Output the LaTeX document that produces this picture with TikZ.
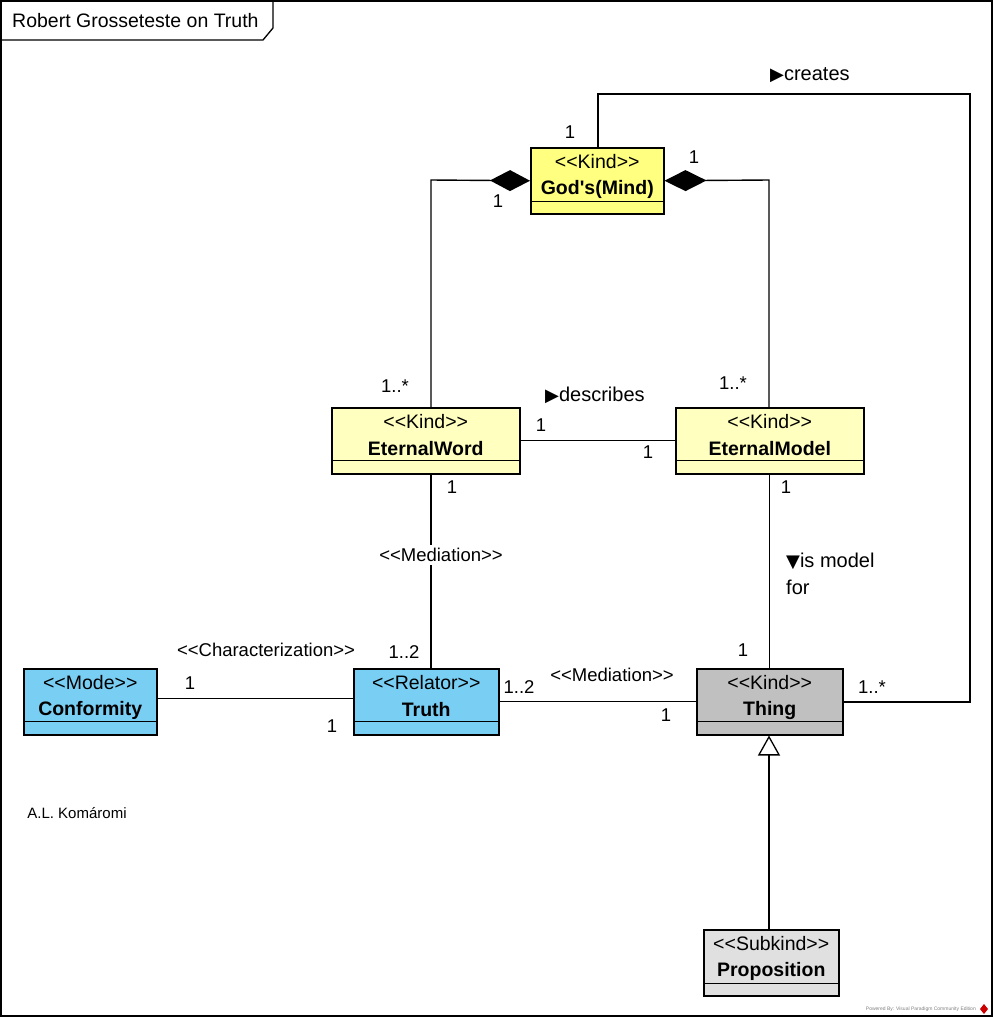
\documentclass[tikz,border=0pt]{standalone}
\usepackage{fontspec}
\setmainfont{Liberation Sans}
\newfontfamily\symfont{DejaVu Sans}
\usetikzlibrary{arrows.meta}
\definecolor{gmyellow}{HTML}{FFFF80}
\definecolor{paleyellow}{HTML}{FFFFC0}
\definecolor{umlblue}{HTML}{79CEF4}
\definecolor{thinggray}{HTML}{C0C0C0}
\definecolor{propgray}{HTML}{E0E0E0}
\newcommand{\stereo}[1]{<{}<#1>{}>}
\newcommand{\tri}[1]{{\symfont\fontsize{18}{18}\selectfont #1}}
\tikzset{
  boxtxt/.style={font=\fontsize{19.5}{22}\selectfont, inner sep=0pt},
  lbl/.style={font=\fontsize{18.5}{21}\selectfont, inner sep=1pt},
  namelbl/.style={font=\fontsize{20}{27}\selectfont, inner sep=1pt},
  conn/.style={line width=1.4pt, line join=miter},
  classbox/.style={draw, line width=1.5pt, inner sep=0pt, anchor=north west},
}
\newcommand{\umlbox}[9]{%
  \node[classbox, fill=#6, minimum width=#4pt, minimum height=#5pt] (#1) at (#2,#3) {};
  \draw[line width=1.3pt] ([yshift=#9pt]#1.south west) -- ([yshift=#9pt]#1.south east);
  \node[boxtxt] at ([yshift=-15pt]#1.north) {\stereo{#7}};
  \node[boxtxt, font=\fontsize{19.5}{22}\selectfont\bfseries] at ([yshift=-42pt]#1.north) {#8};
}
\begin{document}
\begin{tikzpicture}[x=1pt,y=-1pt]
\useasboundingbox (0,0) rectangle (994,1018);
\draw[line width=1.5pt] (1,1) rectangle (992,1016);
\draw[line width=1.3pt] (1,40) -- (263,40) -- (273,28) -- (273,1);
\node[boxtxt, anchor=west] (title) at (12,21) {Robert Grosseteste on Truth};

\umlbox{gm}{530}{147}{133}{66}{gmyellow}{Kind}{God\textquotesingle s(Mind)}{13}
\umlbox{ew}{331}{407}{188}{66}{paleyellow}{Kind}{EternalWord}{14}
\umlbox{em}{675}{407}{188}{66}{paleyellow}{Kind}{EternalModel}{14}
\umlbox{conf}{23}{668}{133}{66}{umlblue}{Mode}{Conformity}{14}
\umlbox{truth}{353}{668}{145}{66}{umlblue}{Relator}{Truth}{14}
\umlbox{thing}{696}{668}{146}{66}{thinggray}{Kind}{Thing}{14}
\umlbox{prop}{703}{929}{135}{66}{propgray}{Subkind}{Proposition}{13}

% coordinates for bends
\coordinate (cr1) at (598,94);
\coordinate (cr2) at (970,94);
\coordinate (cr3) at (970,702);
\coordinate (lc) at (431,180);
\coordinate (rc) at (769,180);
\coordinate (xa) at (431,0);
\coordinate (xg) at (769,0);

% creates
\draw[conn] (gm.north -| cr1) -- (cr1) -- (cr2) -- (cr3) -- (thing.east |- cr3);
% compositions
\draw[conn, {Diamond[length=40pt,width=21pt]}-] (gm.west) -- (lc) -- (ew.north -| lc);
\draw[conn, {Diamond[length=42pt,width=21pt]}-] (gm.east) -- (rc) -- (em.north -| rc);
% describes
\draw[conn] (ew.east) -- (em.west);
% mediation EternalWord - Truth
\draw[conn] (ew.south -| xa) -- (truth.north -| xa);
% is model for
\draw[conn] (em.south) -- (thing.north);
% characterization
\draw[conn] ([yshift=3pt]conf.east) -- ([yshift=3pt]truth.west);
% mediation Truth - Thing
\draw[conn] (truth.east) -- (thing.west);
% generalization
\draw[conn, -{Triangle[open, length=20pt, width=22pt, line width=1.3pt]}] (prop.north -| xg) -- (thing.south -| xg);

% labels
\node[namelbl, anchor=west] (lcreates) at (769,75) {\tri{▶}creates};
\node[lbl] (m1) at (570,132) {1};
\node[lbl] (m2) at (498,201) {1};
\node[lbl] (m3) at (694,157) {1};
\node[lbl] (m4) at (395,386) {1..*};
\node[lbl] (m5) at (733,383) {1..*};
\node[namelbl, anchor=west] (ldesc) at (544,395) {\tri{▶}describes};
\node[lbl] (m6) at (541,425) {1};
\node[lbl] (m7) at (648,452) {1};
\node[lbl] (m8) at (452,487) {1};
\node[lbl] (m9) at (786,487) {1};
\node[lbl, fill=white, inner sep=3pt] (lmed1) at (441,555) {\stereo{Mediation}};
\node[namelbl, anchor=north west, align=left] (lmodel) at (785,552) {\tri{▼}is model\\for};
\node[lbl] (m10) at (404,652) {1..2};
\node[lbl] (m11) at (743,650) {1};
\node[lbl] (lchar) at (266,650) {\stereo{Characterization}};
\node[lbl] (m12) at (190,683) {1};
\node[lbl] (m13) at (332,726) {1};
\node[lbl] (m14) at (519,687) {1..2};
\node[lbl] (lmed2) at (612,675) {\stereo{Mediation}};
\node[lbl] (m15) at (666,715) {1};
\node[lbl] (m16) at (872,687) {1..*};
\node[lbl, font=\fontsize{15}{17}\selectfont] (author) at (77,813) {A.L. Komáromi};
\node[inner sep=0pt, font=\fontsize{5}{6}\selectfont, text=gray, anchor=east] (wm) at (976,1009) {Powered By: Visual Paradigm Community Edition};
\fill[red!80!black] (984,1004) -- (988,1009) -- (984,1014) -- (980,1009) -- cycle;
\end{tikzpicture}
\end{document}
